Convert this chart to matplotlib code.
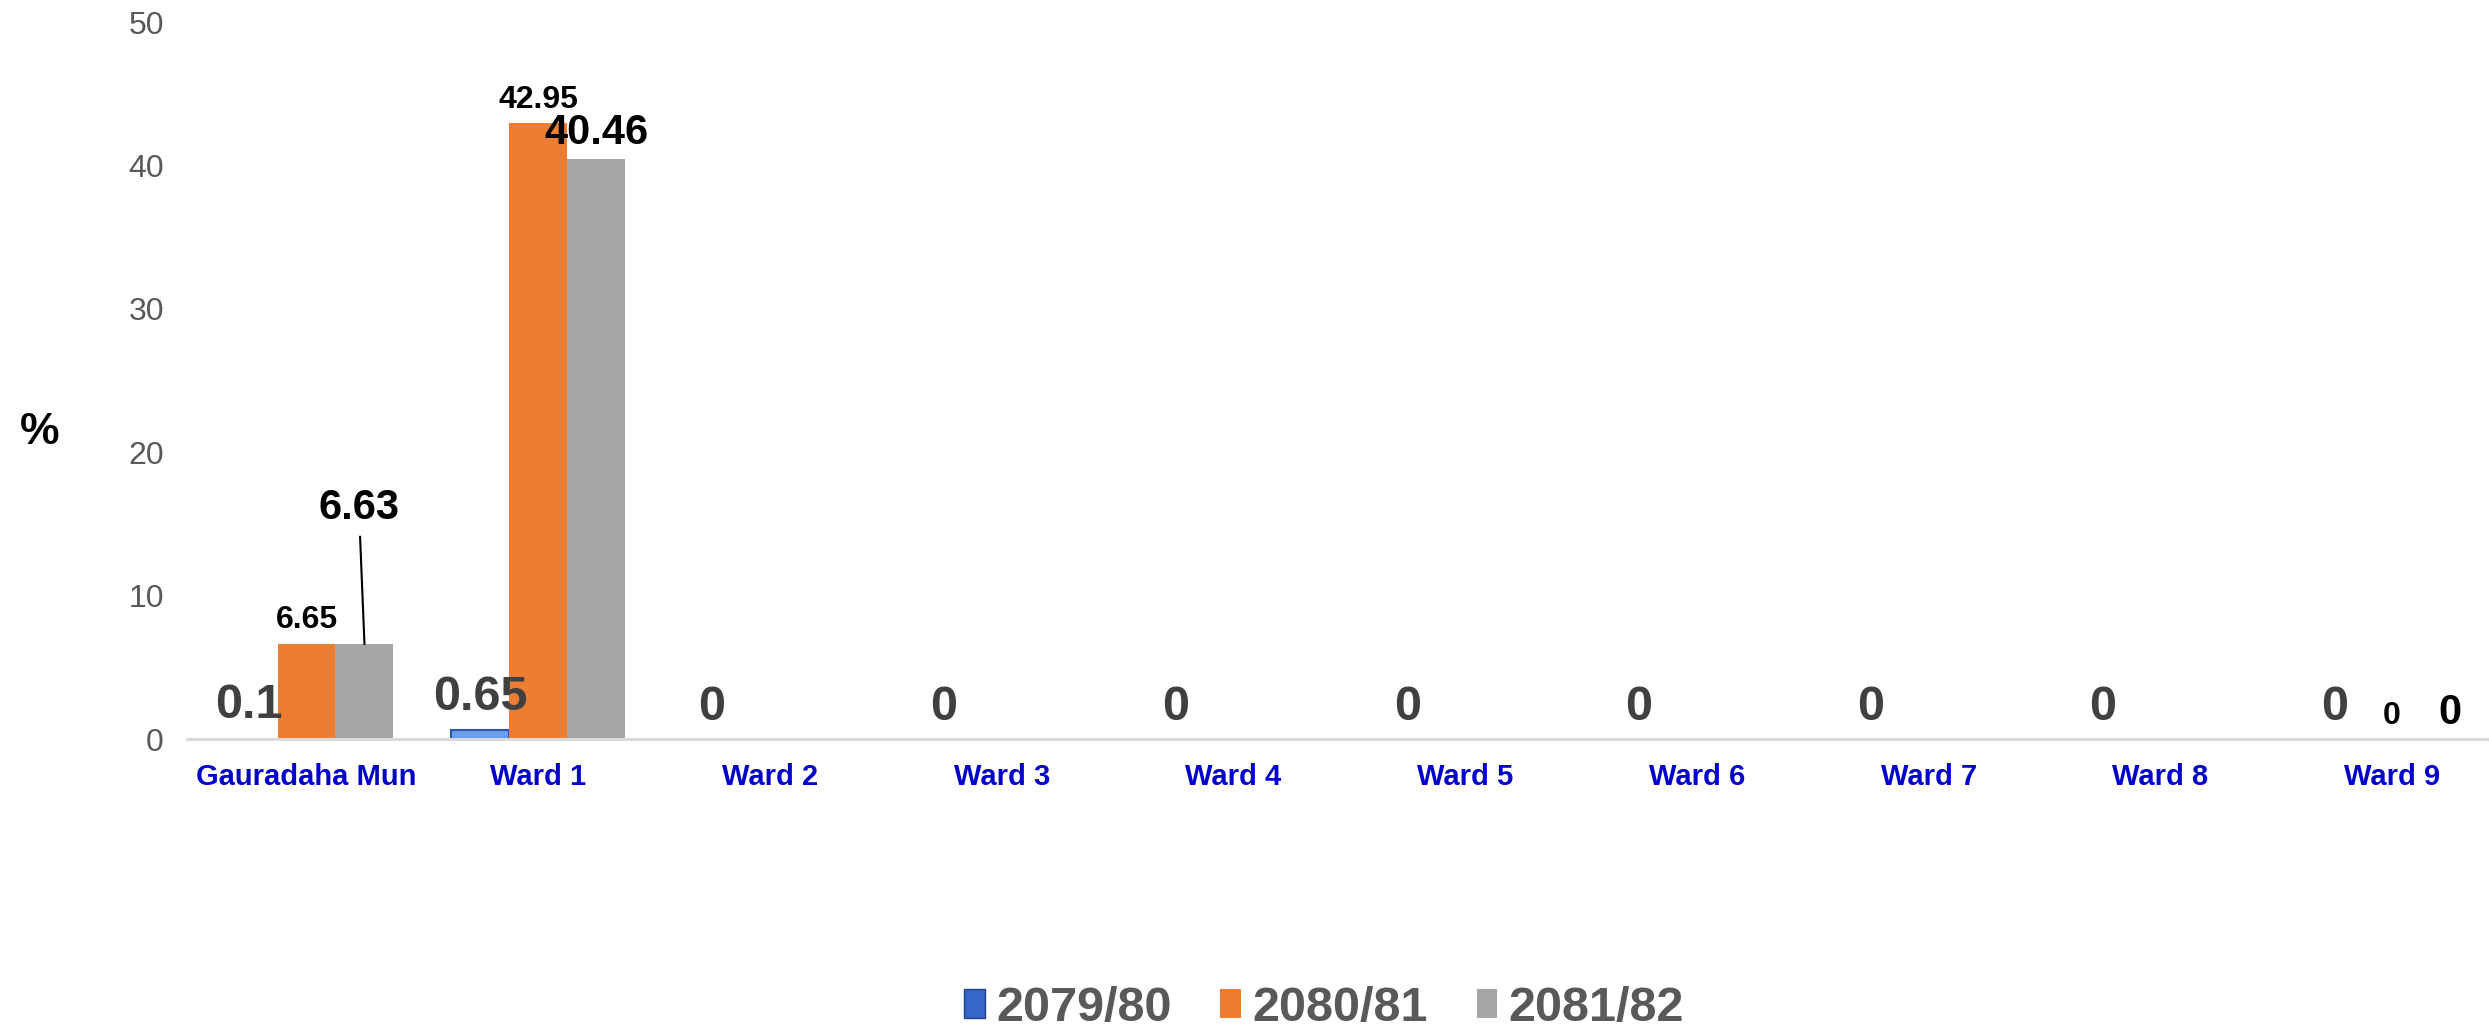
import numpy as np
import matplotlib
matplotlib.use("Agg")
import matplotlib.pyplot as plt
from matplotlib.patches import Patch

plt.rcParams['font.family'] = ['Liberation Sans', 'DejaVu Sans']

# data
categories = ["Gauradaha Mun", "Ward 1", "Ward 2", "Ward 3", "Ward 4",
              "Ward 5", "Ward 6", "Ward 7", "Ward 8", "Ward 9"]
series_names = ["2079/80", "2080/81", "2081/82"]
v_2079 = [0.1, 0.65, 0, 0, 0, 0, 0, 0, 0, 0]
v_2080 = [6.65, 42.95, np.nan, np.nan, np.nan, np.nan, np.nan, np.nan, np.nan, 0]
v_2081 = [6.63, 40.46, np.nan, np.nan, np.nan, np.nan, np.nan, np.nan, np.nan, 0]
yticks = [0, 10, 20, 30, 40, 50]

fig = plt.figure(figsize=(24.89, 10.31), dpi=100)
ax = fig.add_axes([0.0753, 0.2831, 0.9247, 0.6954])

x = np.arange(len(categories))
w = 0.25
edge_w = [1.5 if v > 0.3 else 0 for v in v_2079]
b1 = ax.bar(x - w, np.nan_to_num(v_2079), w, color='#6A9FEA', edgecolor='#2B55A8', linewidth=edge_w)
b2 = ax.bar(x, np.nan_to_num(v_2080), w, color='#ED7D31', linewidth=0)
b3 = ax.bar(x + w, np.nan_to_num(v_2081), w, color='#A5A5A5', linewidth=0)

# labels, 2079/80 : big dark grey
for xi, v in zip(x - w, v_2079):
    ax.annotate(f"{v:g}", (xi, v), xytext=(0, 14), textcoords='offset points',
                ha='center', va='baseline', fontsize=35, fontweight='bold', color='#404040')
# 2080/81 : smaller black
for xi, v in zip(x, v_2080):
    if np.isnan(v):
        continue
    ax.annotate(f"{v:g}", (xi, v), xytext=(0, 11), textcoords='offset points',
                ha='center', va='baseline', fontsize=23, fontweight='bold', color='black')
# 2081/82 : black, first one with leader line
for i, (xi, v) in enumerate(zip(x + w, v_2081)):
    if np.isnan(v):
        continue
    if i == 0:
        ax.annotate(f"{v:g}", (xi, v), xytext=(xi - 0.024, 16.1), textcoords='data',
                    ha='center', va='center', fontsize=30, fontweight='bold', color='black',
                    arrowprops=dict(arrowstyle='-', color='black', lw=1.5, shrinkA=4, shrinkB=0))
    else:
        ax.annotate(f"{v:g}", (xi, v), xytext=(0, 11), textcoords='offset points',
                    ha='center', va='baseline', fontsize=30, fontweight='bold', color='black')

ax.set_xlim(-0.514, 9.418)
ax.set_ylim(0, 50)
ax.set_yticks(yticks)
ax.set_xticks(x)
ax.set_xticklabels(categories, fontsize=21, fontweight='bold', color='#0000CC')
ax.tick_params(axis='x', length=0, pad=17)
ax.tick_params(axis='y', length=0, pad=17, labelsize=23, labelcolor='#595959')
for s in ['top', 'right', 'left']:
    ax.spines[s].set_visible(False)
ax.spines['bottom'].set_color('#D9D9D9')
ax.spines['bottom'].set_linewidth(2.2)

fig.text(40 / 2489, 1 - 432 / 1031, "%", fontsize=32, fontweight='bold',
         ha='center', va='center', color='black')

handles = [Patch(facecolor='#3566C8', edgecolor='#1F3F8A'),
           Patch(facecolor='#ED7D31'),
           Patch(facecolor='#A5A5A5')]
leg = fig.legend(handles, series_names, loc='center', bbox_to_anchor=(0.532, 0.022),
                 ncol=3, frameon=False, handlelength=0.43, handleheight=0.56,
                 handletextpad=0.23, columnspacing=1.0,
                 prop={'size': 35, 'weight': 'bold'})
for t in leg.get_texts():
    t.set_color('#595959')

fig.savefig("out.png", dpi=100)
